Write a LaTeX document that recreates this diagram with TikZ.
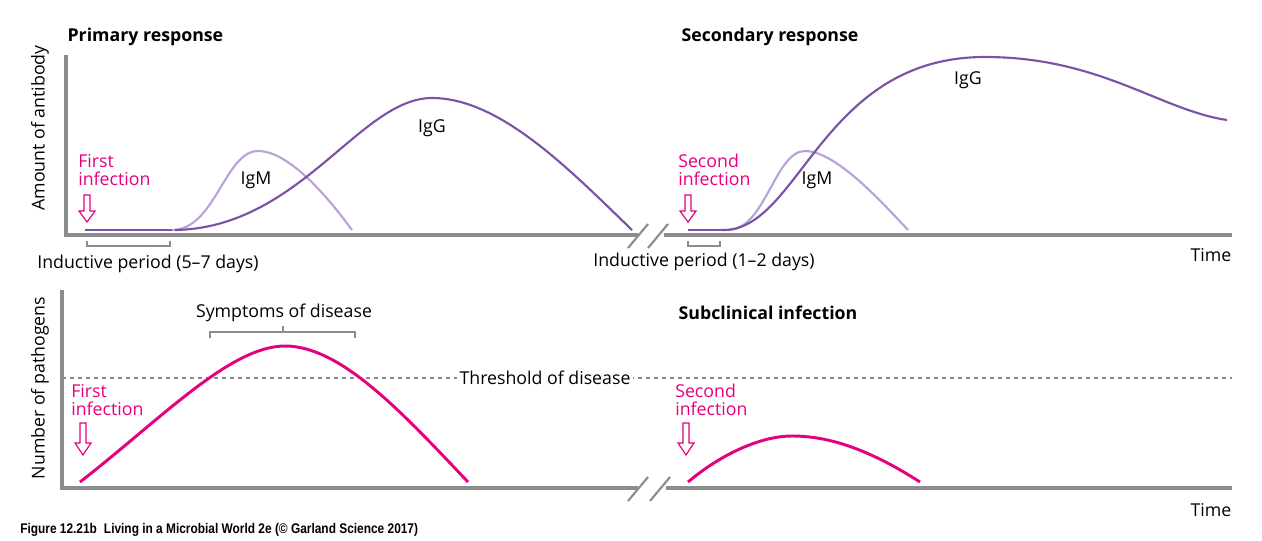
\documentclass[tikz,border=0pt]{standalone}
\usepackage{fontspec}
\setmainfont{Open Sans}
\newfontfamily\capfont{Liberation Sans}[FakeStretch=0.85]
\definecolor{dp}{HTML}{7B52A6}
\definecolor{lp}{HTML}{B9A2D6}
\definecolor{mg}{HTML}{E5007D}
\definecolor{ax}{HTML}{8C8C8C}
\begin{document}
\begin{tikzpicture}[x=0.75pt,y=-0.75pt,
  axis/.style={ax,line width=2.4pt},
  lbl/.style={font=\fontsize{13.3}{15}\selectfont,inner sep=1pt},
  ttl/.style={font=\fontsize{13.3}{15}\selectfont\bfseries,inner sep=1pt,anchor=west},
  inf/.style={mg,font=\fontsize{13.3}{14}\selectfont,align=left,anchor=west,inner sep=0pt},
  hollow/.style={mg,line width=0.9pt,fill=white}]
\useasboundingbox (0,0) rectangle (1262,540);
% ---------- top panel ----------
\draw[axis] (66,55) -- (66,235) -- (638,235);
\draw[axis] (664,235) -- (1232,235);
\draw[ax,line width=1.6pt] (628,248) -- (648,224) (648,248) -- (668,224);
\node[ttl] (t1) at (66,37) {Primary response};
\node[ttl] (t2) at (680,37) {Secondary response};
\node[lbl,rotate=90] (ya) at (40,128) {Amount of antibody};
\node[inf] (f1) at (78,170) {First\\infection};
\draw[hollow] (84,195) -- (90,195) -- (90,211) -- (95,211) -- (87,222) -- (79,211) -- (84,211) -- cycle;
\draw[dp,line width=1.6pt] (85,230) -- (175,230);
\draw[lp,line width=1.6pt] (172,230) .. controls (215,230) and (225,151) .. (258,151) .. controls (290,151) and (330,200) .. (352,230);
\draw[dp,line width=1.6pt] (175,230) .. controls (300,228) and (360,98) .. (432,98) .. controls (500,98) and (570,170) .. (632,230);
\node[lbl] (igg1) at (432,128) {IgG};
\node[lbl] (igm1) at (256,180) {IgM};
\draw[ax,line width=0.8pt] (87,241) -- (87,246) -- (170,246) -- (170,241);
\node[lbl] (ip1) at (148,264) {Inductive period (5–7 days)};
\node[inf] (f2) at (678,170) {Second\\infection};
\draw[hollow] (685,195) -- (691,195) -- (691,211) -- (696,211) -- (688,222) -- (680,211) -- (685,211) -- cycle;
\draw[dp,line width=1.6pt] (688,230) -- (725,230);
\draw[lp,line width=1.6pt] (728,230) .. controls (765,230) and (775,151) .. (805,151) .. controls (835,151) and (880,200) .. (908,230);
\draw[dp,line width=1.6pt] (722,230) .. controls (800,232) and (820,57) .. (985,57) .. controls (1100,57) and (1160,110) .. (1227,120);
\node[lbl] (igg2) at (968,80) {IgG};
\node[lbl] (igm2) at (817,180) {IgM};
\draw[ax,line width=0.8pt] (688,241) -- (688,246) -- (720,246) -- (720,241);
\node[lbl] (ip2) at (704,262) {Inductive period (1–2 days)};
\node[lbl] (time1) at (1211,255) {Time};
% ---------- bottom panel ----------
\draw[axis] (62,290) -- (62,488) -- (638,488);
\draw[axis] (666,488) -- (1232,488);
\draw[ax,line width=1.6pt] (628,501) -- (648,477) (650,501) -- (670,477);
\node[lbl,rotate=90] (yb) at (40,388) {Number of pathogens};
\draw[ax,dashed,line width=0.9pt] (62,378) -- (1232,378);
\node[lbl,fill=white,inner sep=2pt] (thr) at (545,378) {Threshold of disease};
\node[inf] (f3) at (71,400) {First\\infection};
\draw[hollow] (80,423) -- (86,423) -- (86,443) -- (91,443) -- (83,455) -- (75,443) -- (80,443) -- cycle;
\draw[mg,line width=2.2pt] (80,482) .. controls (160,420) and (230,346) .. (285,346) .. controls (340,346) and (400,410) .. (468,482);
\draw[ax,line width=0.8pt] (210,338) -- (210,332) -- (355,332) -- (355,338) (283,332) -- (283,326);
\node[lbl] (sym) at (284,313) {Symptoms of disease};
\node[ttl] (sub) at (677,313) {Subclinical infection};
\node[inf] (f4) at (675,400) {Second\\infection};
\draw[hollow] (683,423) -- (689,423) -- (689,443) -- (694,443) -- (686,455) -- (678,443) -- (683,443) -- cycle;
\draw[mg,line width=2.2pt] (688,482) .. controls (720,455) and (760,436) .. (792,436) .. controls (830,436) and (870,450) .. (920,482);
\node[lbl] (time2) at (1211,510) {Time};
\node[anchor=west,inner sep=0pt,font=\capfont\fontsize{10.5}{12}\selectfont\bfseries] (cap) at (20,530) {Figure 12.21b\enspace Living in a Microbial World 2e (© Garland Science 2017)};
\end{tikzpicture}
\end{document}
